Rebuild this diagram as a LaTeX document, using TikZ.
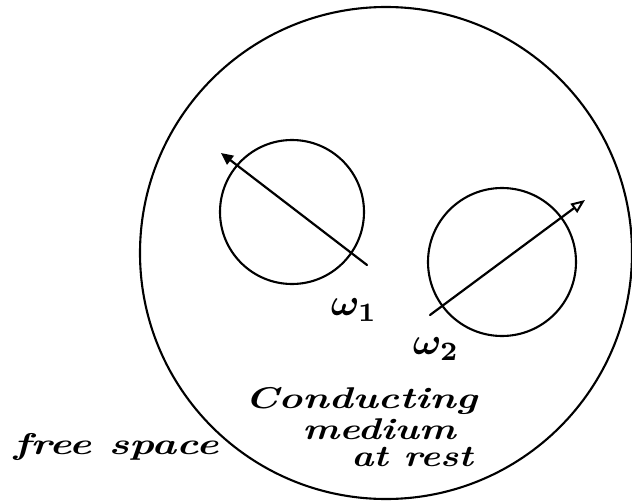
\documentclass[tikz,border=0pt]{standalone}
\usepackage{fontspec}
\usepackage{graphicx}
\usepackage{amsmath}
\usetikzlibrary{arrows.meta}
\tikzset{
  ring/.style={circle, draw=black, line width=2.1pt, inner sep=0pt},
  rotarrow/.style={line width=2.2pt, line cap=round},
  hand/.style={inner sep=0pt, font=\bfseries\itshape\fontsize{30}{34}\selectfont},
  omegalabel/.style={inner sep=0pt}
}
\newcommand{\bigomega}[1]{\scalebox{3.8}{\boldmath$\omega_{#1}$}}
\begin{document}
\begin{tikzpicture}[x=1pt,y=-1pt]
\useasboundingbox (0,0) rectangle (632,503);
% big circle: the conducting medium
\node[ring, minimum size=492pt] (medium) at (386,253) {};
% two rotating spheres
\node[ring, minimum size=144pt] (c1) at (292,212) {};
\node[ring, minimum size=148pt] (c2) at (502,262) {};
% rotation axes
\coordinate (a1s) at (367,265);
\coordinate (a1e) at (221,153);
\coordinate (a2s) at (430,315);
\coordinate (a2e) at (585,200);
\draw[rotarrow, -{Triangle[length=12pt,width=11pt]}] (a1s) -- (a1e);
\draw[rotarrow, -{Triangle[open,length=14pt,width=11pt,line width=2pt]}] (a2s) -- (a2e);
% labels
\node[omegalabel] (w1) at (354,310) {\bigomega{1}};
\node[omegalabel] (w2) at (436,349) {\bigomega{2}};
\node[hand] (cond) at (361,401) {\scalebox{1.35}[1]{Conducting}};
\node[hand] (med) at (379,429) {\scalebox{1.3}[1]{medium}};
\node[hand] (rest) at (412,457) {\scalebox{1.25}[1]{at rest}};
\node[hand] (free) at (116,447) {\scalebox{1.4}[1]{free space}};
\end{tikzpicture}
\end{document}
